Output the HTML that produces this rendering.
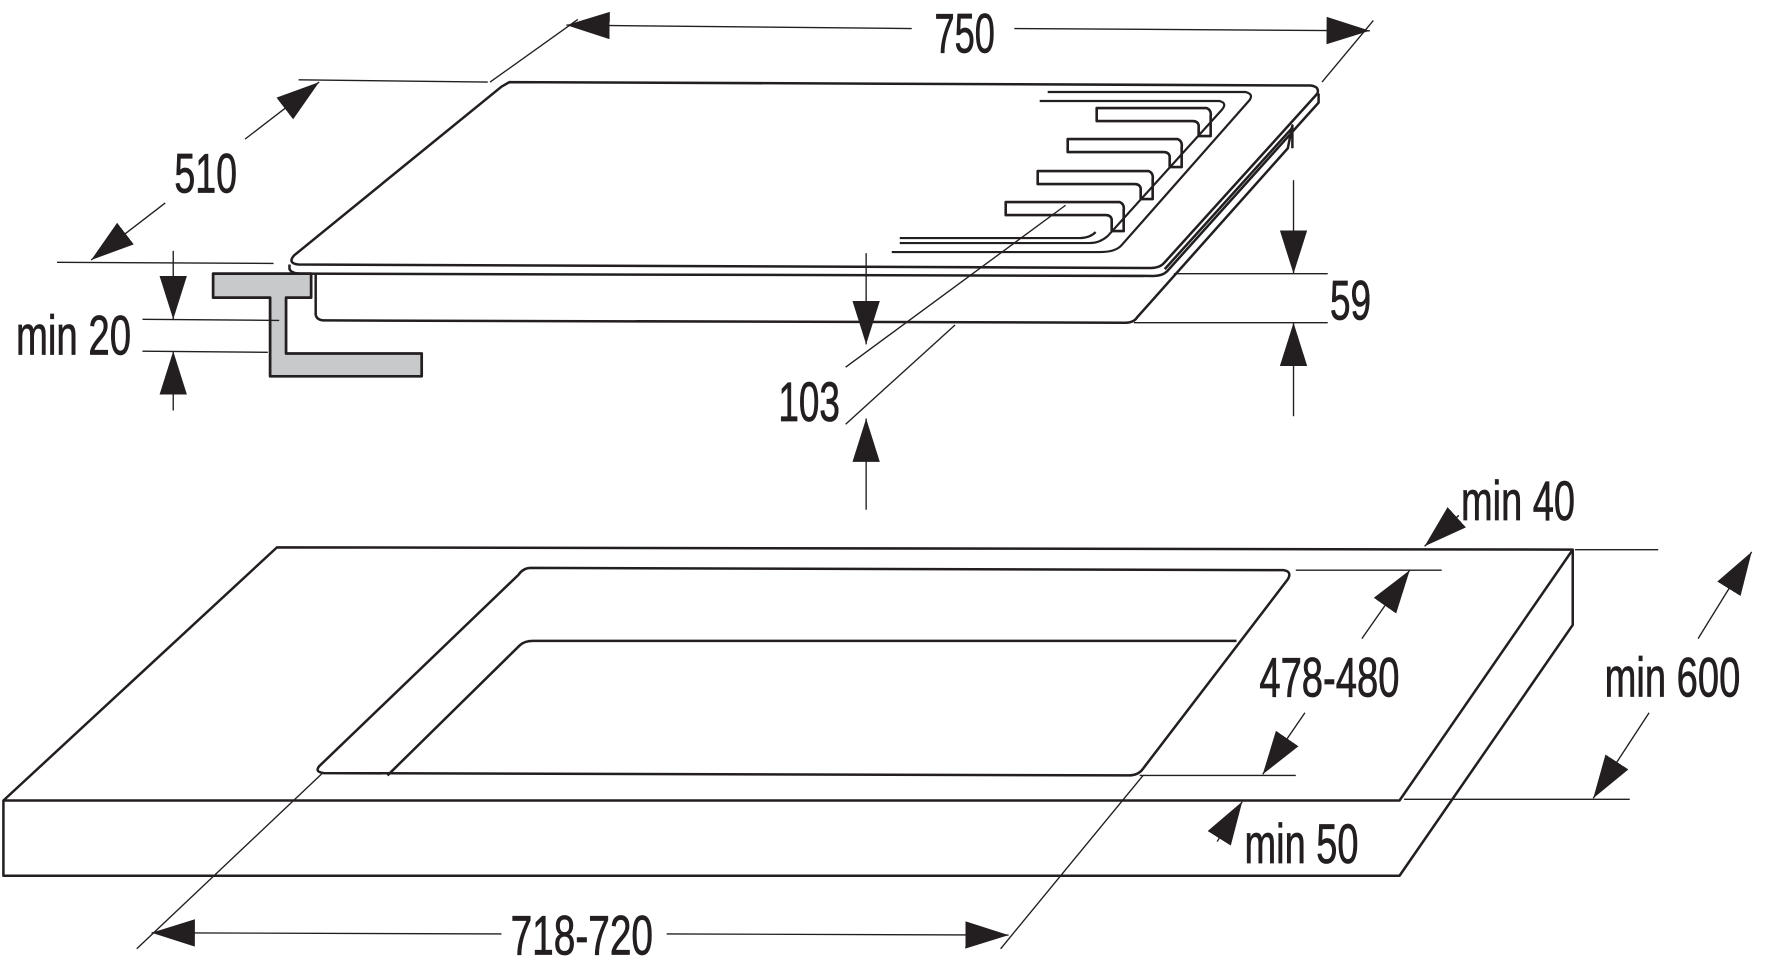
<!DOCTYPE html>
<html><head><meta charset="utf-8"><style>
html,body{margin:0;padding:0;background:#fff;}
svg{display:block;}
text{font-family:"Liberation Sans Narrow","Liberation Sans",sans-serif;font-size:49px;fill:#231f20;stroke:#231f20;stroke-width:0.7;}
</style></head><body>
<svg width="1787" height="967" viewBox="0 0 1568 848" preserveAspectRatio="none" xmlns="http://www.w3.org/2000/svg">
<defs>
<marker id="a" markerUnits="userSpaceOnUse" markerWidth="44" markerHeight="28" refX="38" refY="12" orient="auto">
<polygon points="0,0 38,12 0,24" fill="#231f20"/>
</marker>
</defs>
<g fill="none" stroke="#231f20" stroke-width="2.2" stroke-linejoin="round">
<path d="M447,72 L1150,75 Q1158,76 1156,82 L1022,230 Q1018,235 1010,235 L262,232 Q252,231 258,224 L440,76 Z"/>
<path d="M254,232 L254,236 Q256,240 264,240 L1012,242 Q1020,242 1024,238 L1157,90 L1157,82"/>
<path d="M277,240 L277,276 Q278,281 285,281 L988,283 Q995,283 998,278 L1130,130 L1134,110 L1134,130"/>
<path d="M1022,236 L1134,112"/>
<g transform="scale(0.8772)">
<path d="M1048,92 L1246,92 Q1254,94 1250,100 L1122,245 Q1116,252 1100,252 L892,252"/>
<path d="M1040,101 L1220,101 Q1228,103 1222,110 L1108,236 Q1100,243 1090,243 L900,243"/>
<path d="M900,238 L1080,238 Q1090,238 1096,232"/>
<path d="M1097,108 L1207,108 Q1212,110 1211,116 L1211,136 L1199,136 L1199,125 Q1198,121 1193,121 L1097,121 Z" stroke-width="2.6"/>
<path d="M1068,139 L1178,139 Q1183,141 1182,147 L1182,167 L1170,167 L1170,156 Q1169,152 1164,152 L1068,152 Z" stroke-width="2.6"/>
<path d="M1038,171 L1149,171 Q1154,173 1153,179 L1153,199 L1141,199 L1141,188 Q1140,184 1135,184 L1038,184 Z" stroke-width="2.6"/>
<path d="M1006,202 L1120,202 Q1125,204 1124,210 L1124,231 L1112,231 L1112,219 Q1111,215 1106,215 L1006,215 Z" stroke-width="2.6"/>
</g>
<path d="M187,240 L273,240 L273,261 L251,261 L251,310 L370,310 L370,330 L237,330 L237,261 L187,261 Z" fill="#c8c9cb" stroke-width="2.4"/>
</g>
<g fill="none" stroke="#231f20" stroke-width="1.2">
<line x1="430" y1="72" x2="507" y2="17"/>
<line x1="1160" y1="72" x2="1205" y2="18"/>
<line x1="800" y1="25" x2="497" y2="22" marker-end="url(#a)"/>
<line x1="890" y1="25" x2="1202" y2="27" marker-end="url(#a)"/>
<line x1="262" y1="70" x2="428" y2="72"/>
<line x1="50" y1="230" x2="240" y2="231"/>
<line x1="215" y1="122" x2="280" y2="72" marker-end="url(#a)"/>
<line x1="145" y1="178" x2="80" y2="228" marker-end="url(#a)"/>
<line x1="125" y1="280" x2="245" y2="281"/>
<line x1="125" y1="308" x2="235" y2="309"/>
<line x1="152" y1="220" x2="152" y2="280" marker-end="url(#a)"/>
<line x1="152" y1="360" x2="152" y2="308" marker-end="url(#a)"/>
<line x1="1030" y1="240" x2="1165" y2="240"/>
<line x1="995" y1="283" x2="1165" y2="283"/>
<line x1="1135" y1="158" x2="1135" y2="240" marker-end="url(#a)"/>
<line x1="1135" y1="365" x2="1135" y2="283" marker-end="url(#a)"/>
<line x1="742" y1="322" x2="935" y2="180"/>
<line x1="742" y1="372" x2="838" y2="285"/>
<line x1="760" y1="222" x2="760" y2="302" marker-end="url(#a)"/>
<line x1="760" y1="447" x2="760" y2="367" marker-end="url(#a)"/>
</g>
<g fill="none" stroke="#231f20" stroke-width="2.2" stroke-linejoin="round">
<path d="M243,480 L1380,482 L1380,548 L1228,768 L3,768 L3,702 Z"/>
<path d="M3,702 L1228,702 L1380,482"/>
<path d="M466,498 L1126,500 Q1134,501 1130,508 L1003,674 Q999,680 990,680 L284,678 Q276,677 280,672 L455,504 Q459,498 466,498 Z"/>
<path d="M340,680 L456,566 Q460,562 468,562 L1085,562"/>
</g>
<g fill="none" stroke="#231f20" stroke-width="1.2">
<line x1="1382" y1="482" x2="1455" y2="482"/>
<line x1="1137" y1="500" x2="1265" y2="500"/>
<line x1="1000" y1="680" x2="1137" y2="680"/>
<line x1="1232" y1="701" x2="1430" y2="701"/>
<line x1="1280" y1="452" x2="1250" y2="479" marker-end="url(#a)"/>
<line x1="1195" y1="560" x2="1237" y2="500" marker-end="url(#a)"/>
<line x1="1145" y1="625" x2="1108" y2="679" marker-end="url(#a)"/>
<line x1="1490" y1="560" x2="1537" y2="484" marker-end="url(#a)"/>
<line x1="1447" y1="625" x2="1398" y2="700" marker-end="url(#a)"/>
<line x1="1068" y1="738" x2="1090" y2="703" marker-end="url(#a)"/>
<line x1="120" y1="832" x2="283" y2="678"/>
<line x1="878" y1="832" x2="1003" y2="680"/>
<line x1="440" y1="819" x2="133" y2="818" marker-end="url(#a)"/>
<line x1="585" y1="819" x2="885" y2="820" marker-end="url(#a)"/>
</g>
<text x="820" y="46" textLength="53" lengthAdjust="spacingAndGlyphs">750</text>
<text x="153" y="169" textLength="55" lengthAdjust="spacingAndGlyphs">510</text>
<text x="14" y="311" textLength="101" lengthAdjust="spacingAndGlyphs">min 20</text>
<text x="1167" y="280" textLength="36" lengthAdjust="spacingAndGlyphs">59</text>
<text x="683" y="369" textLength="54" lengthAdjust="spacingAndGlyphs">103</text>
<text x="1282" y="456" textLength="100" lengthAdjust="spacingAndGlyphs">min 40</text>
<text x="1105" y="611" textLength="123" lengthAdjust="spacingAndGlyphs">478-480</text>
<text x="1408" y="611" textLength="119" lengthAdjust="spacingAndGlyphs">min 600</text>
<text x="1092" y="757" textLength="100" lengthAdjust="spacingAndGlyphs">min 50</text>
<text x="448" y="837" textLength="125" lengthAdjust="spacingAndGlyphs">718-720</text>
</svg>
</body></html>
